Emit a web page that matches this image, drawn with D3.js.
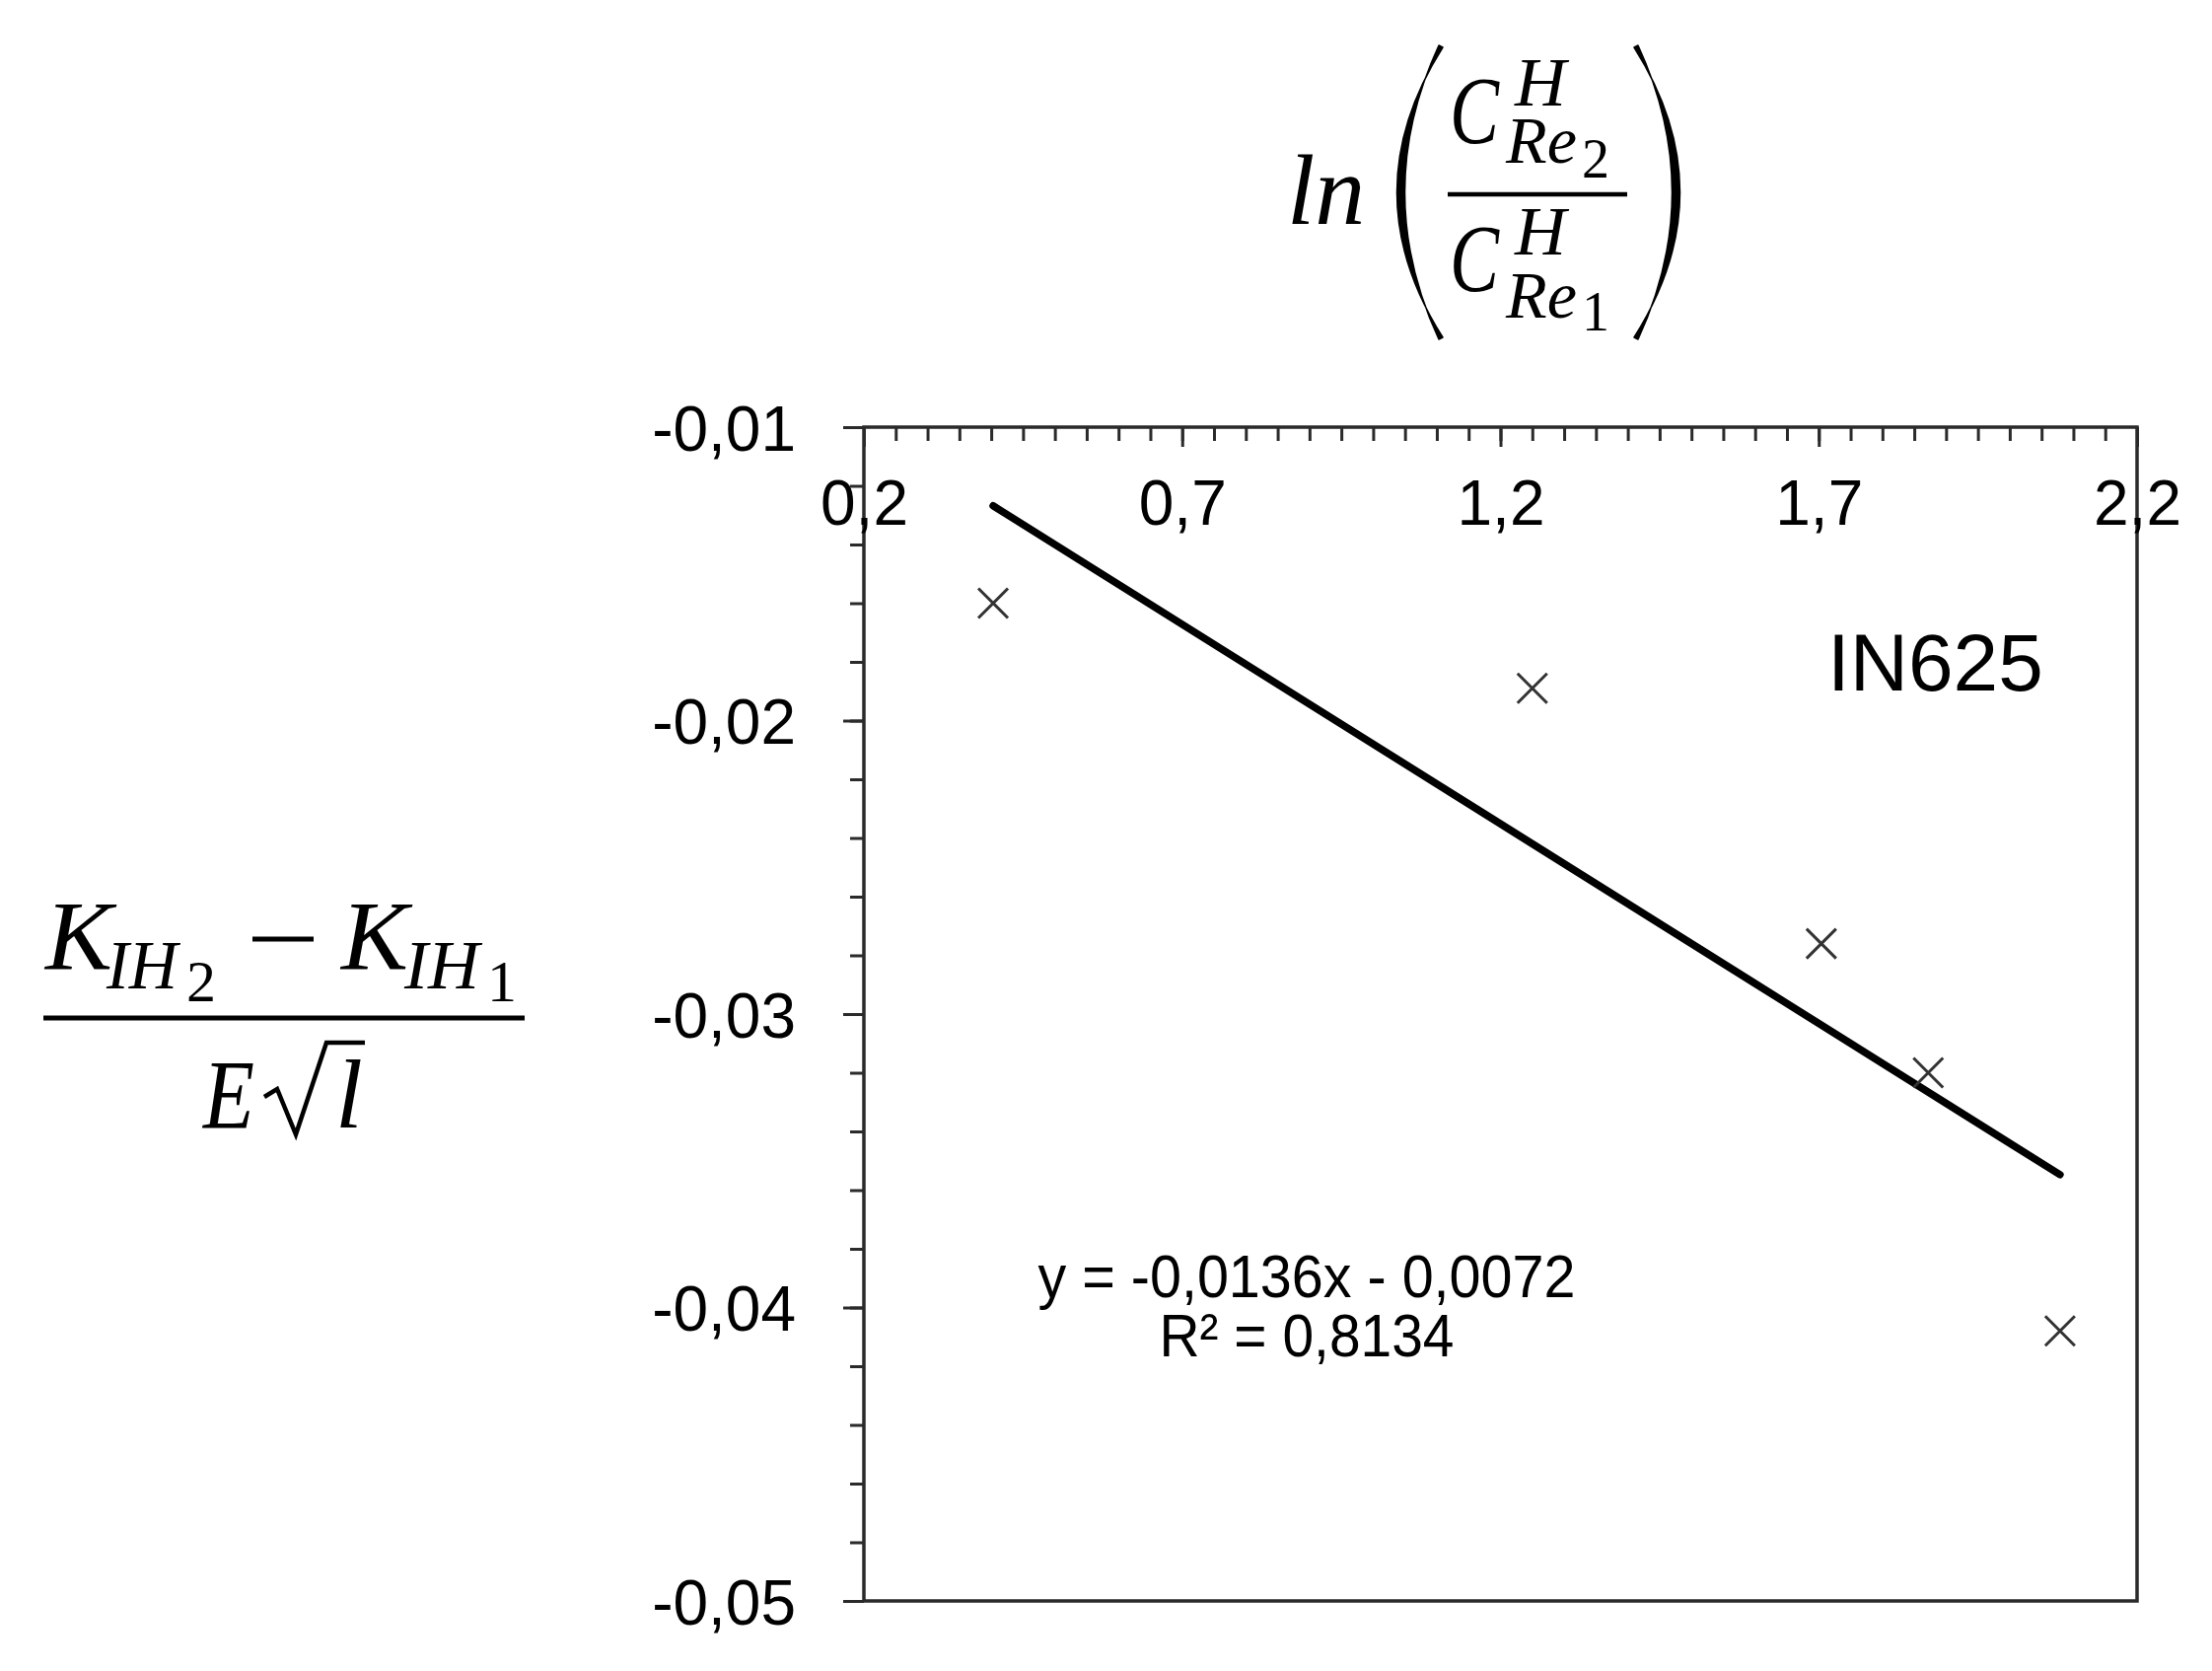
<!DOCTYPE html>
<html>
<head>
<meta charset="utf-8">
<script src="https://cdn.jsdelivr.net/npm/d3@7"></script>
<style>
  body { margin: 0; background: #fff; }
  svg { display: block; }
  .tick text { font-family: "Liberation Sans", Arial, sans-serif; fill: #000; }
  .math { font-family: "Liberation Serif", "DejaVu Serif", serif; font-style: italic; fill: #000; }
  .up { font-style: normal; }
</style>
</head>
<body>
<svg id="chart" width="2243" height="1694"></svg>
<script>
// measured points (ln ratio vs normalised K difference)
const xValues = [0.403, 1.250, 1.704, 1.872, 2.079];
const yValues = [-0.0160, -0.0189, -0.0276, -0.0320, -0.0408];
// linear trend as printed on the chart
const fitSlope = -0.0136;
const fitIntercept = -0.0072;
const fitLabel = ['y = -0,0136x - 0,0072', 'R² = 0,8134'];
const seriesName = 'IN625';
const xTicks = [0.2, 0.7, 1.2, 1.7, 2.2];
const yTicks = [-0.01, -0.02, -0.03, -0.04, -0.05];

const plot = { left: 876, right: 2167, top: 433, bottom: 1623 };

const svg = d3.select('#chart');

const x = d3.scaleLinear().domain([0.2, 2.2]).range([plot.left, plot.right]);
const y = d3.scaleLinear().domain([-0.05, -0.01]).range([plot.bottom, plot.top]);

const loc = d3.formatLocale({ decimal: ',', thousands: '.', grouping: [3], currency: ['', ''], minus: '-' });
const fx = loc.format('.1f');
const fy = loc.format('.2f');

// plot frame
svg.append('rect')
	.attr('x', plot.left)
	.attr('y', plot.top)
	.attr('width', plot.right - plot.left)
	.attr('height', plot.bottom - plot.top)
	.attr('fill', 'none')
	.attr('stroke', '#2a2a2a')
	.attr('stroke-width', 3.5);

// x axis sits on the top edge, ticks and labels point into the plot
const gxMinor = svg.append('g')
	.attr('transform', `translate(0,${plot.top})`)
	.call(d3.axisBottom(x).ticks(40).tickSize(14).tickSizeOuter(0).tickFormat(''));
const gx = svg.append('g')
	.attr('transform', `translate(0,${plot.top})`)
	.call(d3.axisBottom(x).tickValues(xTicks).tickSize(20).tickSizeOuter(0).tickPadding(34).tickFormat(fx));
gx.selectAll('.tick text').attr('font-size', 64);

// y axis, ticks outside
const gyMinor = svg.append('g')
	.attr('transform', `translate(${plot.left},0)`)
	.call(d3.axisLeft(y).ticks(20).tickSize(14).tickSizeOuter(0).tickFormat(''));
const gy = svg.append('g')
	.attr('transform', `translate(${plot.left},0)`)
	.call(d3.axisLeft(y).tickValues(yTicks).tickSize(21).tickSizeOuter(0).tickPadding(48).tickFormat(fy));
gy.selectAll('.tick text').attr('font-size', 64).attr('dy', '0.36em');

[gxMinor, gx, gyMinor, gy].forEach(function(g) {
	g.select('.domain').remove();
	g.selectAll('.tick line').attr('stroke', '#2a2a2a').attr('stroke-width', 3);
});

// trend line between the outermost points
const xExt = d3.extent(xValues);
const fitLine = d3.line()
	.x(function(d) { return x(d); })
	.y(function(d) { return y(fitSlope * d + fitIntercept); });
svg.append('path')
	.datum(xExt)
	.attr('d', fitLine)
	.attr('fill', 'none')
	.attr('stroke', '#000')
	.attr('stroke-width', 7.5)
	.attr('stroke-linecap', 'round');

// x markers
const points = xValues.map(function(v, i) { return { x: v, y: yValues[i] }; });
const m = 15;
svg.append('g')
	.selectAll('path')
	.data(points)
	.enter()
	.append('path')
	.attr('d', function(d) {
		const cx = x(d.x), cy = y(d.y);
		return `M${cx - m},${cy - m}L${cx + m},${cy + m}M${cx - m},${cy + m}L${cx + m},${cy - m}`;
	})
	.attr('stroke', '#333')
	.attr('stroke-width', 3)
	.attr('fill', 'none');

// series name
svg.append('text')
	.attr('x', 1853)
	.attr('y', 700)
	.attr('font-family', '"Liberation Sans", Arial, sans-serif')
	.attr('font-size', 82)
	.text(seriesName);

// trendline equation
svg.append('g')
	.selectAll('text')
	.data(fitLabel)
	.enter()
	.append('text')
	.attr('x', 1325)
	.attr('y', function(d, i) { return 1315 + i * 60; })
	.attr('text-anchor', 'middle')
	.attr('font-family', '"Liberation Sans", Arial, sans-serif')
	.attr('font-size', 62)
	.attr('textLength', function(d, i) { return i ? 299 : 545; })
	.attr('lengthAdjust', 'spacingAndGlyphs')
	.text(function(d) { return d; });

// math labels: each composite is one text, pieces are tspans [txt, x, y, size, upright, width]
function mtext(parts) {
	const t = svg.append('text').attr('class', 'math');
	parts.forEach(function(p) {
		const s = t.append('tspan')
			.attr('x', p[1])
			.attr('y', p[2])
			.attr('font-size', p[3])
			.text(p[0]);
		if (p[4]) s.attr('class', 'up');
		if (p[5]) s.attr('textLength', p[5]).attr('lengthAdjust', 'spacingAndGlyphs');
	});
}

function paren(d) {
	svg.append('path')
		.attr('d', d)
		.attr('fill', '#000')
		.attr('stroke', '#000')
		.attr('stroke-width', 1.5)
		.attr('stroke-linejoin', 'round');
}

// top label: ln(C^H_Re2 / C^H_Re1)
mtext([['ln', 1305, 227, 102]]);
paren('M1463,48 Q1370,195 1463,342 L1459,344 Q1390,195 1459,46 Z');
paren('M1657,48 Q1750,195 1657,342 L1661,344 Q1730,195 1661,46 Z');
svg.append('line')
	.attr('x1', 1468).attr('x2', 1650).attr('y1', 197).attr('y2', 197)
	.attr('stroke', '#000').attr('stroke-width', 4.5);
mtext([
	['C', 1470, 145, 98, false, 50],
	['H', 1536, 107, 70, false, 52],
	['Re', 1527, 165, 68, false, 72],
	['2', 1604, 180, 56, true]
]);
mtext([
	['C', 1470, 295, 98, false, 50],
	['H', 1536, 258, 70, false, 52],
	['Re', 1527, 322, 68, false, 72],
	['1', 1604, 335, 56, true]
]);

// left label: (K_IH2 - K_IH1) / (E sqrt(l))
svg.append('line')
	.attr('x1', 44).attr('x2', 532).attr('y1', 1032).attr('y2', 1032)
	.attr('stroke', '#000').attr('stroke-width', 5);
svg.append('line')
	.attr('x1', 256).attr('x2', 318).attr('y1', 952).attr('y2', 952)
	.attr('stroke', '#000').attr('stroke-width', 5);
mtext([
	['K', 46, 982, 100, false, 68],
	['IH', 108, 1002, 70, false, 72],
	['2', 189, 1015, 60, true],
	['K', 346, 982, 100, false, 68],
	['IH', 410, 1002, 70, false, 76],
	['1', 494, 1015, 60, true]
]);
mtext([
	['E', 206, 1143, 100, false, 52],
	['l', 340, 1143, 100]
]);
svg.append('path')
	.attr('d', 'M268,1112 L281,1104 L300,1150 L331,1057 L370,1057')
	.attr('fill', 'none').attr('stroke', '#000').attr('stroke-width', 4.5)
	.attr('stroke-linejoin', 'miter');
</script>
</body>
</html>
